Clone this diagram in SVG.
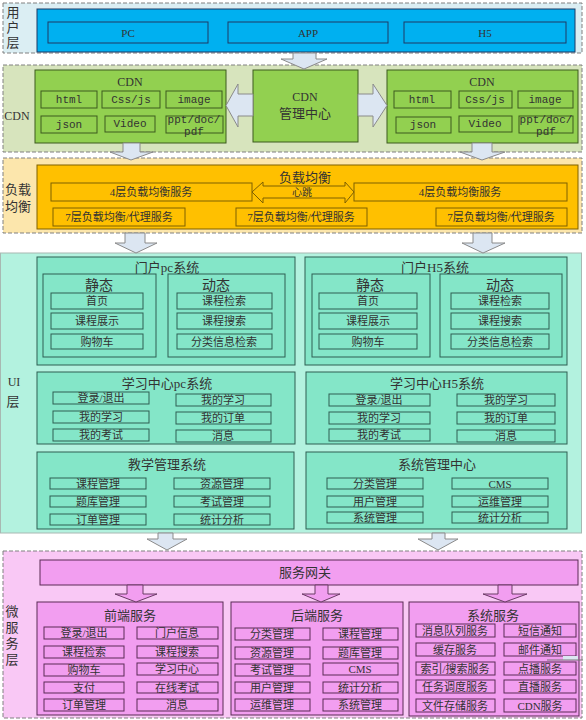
<svg xmlns="http://www.w3.org/2000/svg" width="586" height="720" viewBox="0 0 586 720">
<style>
text{font-family:"Liberation Serif","Noto Sans CJK SC",serif;fill:#333;text-anchor:middle;dominant-baseline:central}
.mono{font-family:"Liberation Mono","Noto Sans CJK SC",monospace;font-size:11px}
.t11{font-size:11px}.t10{font-size:10px}.t12{font-size:12px}.t13{font-size:13px}.t14{font-size:14px}
.layer{stroke:#808080;stroke-width:1;stroke-dasharray:4 2}
.blue{fill:#00b0f0;stroke:#1f3864;stroke-width:1}
.green{fill:#92d050;stroke:#3d5a1e;stroke-width:1}
.orange{fill:#ffc000;stroke:#7f6000;stroke-width:1}
.aqua{fill:#84e6c8;stroke:#2e5e52;stroke-width:1}
.pink{fill:#f29ef0;stroke:#5a2a55;stroke-width:1}
.arr{fill:#dce6f2;stroke:#8a8a8a;stroke-width:1}
.parr{fill:#f29ef0;stroke:#6a3a65;stroke-width:1}
</style>

<!-- layers -->
<g id="layer-user">
<rect class="layer" x="3" y="3" width="579" height="50" fill="#dbeef3"/>
<text class="t13" x="13" y="12">用</text><text class="t13" x="13" y="27">户</text><text class="t13" x="13" y="42">层</text>
</g>
<g id="layer-cdn">
<rect class="layer" x="3" y="65" width="579" height="87" fill="#d7e4bd"/>
<text class="t12" x="17" y="116">CDN</text>
</g>
<g id="layer-lb">
<rect class="layer" x="3" y="158" width="579" height="75" fill="#fce6ac"/>
<text class="t13" x="18" y="189">负载</text><text class="t13" x="18" y="206">均衡</text>
</g>
<g id="layer-ui">
<rect x="0.5" y="253" width="581" height="280" fill="#b3f2df" stroke="#a8b8b2"/>
<text class="t12" x="14" y="382">UI</text><text class="t13" x="13" y="401">层</text>
</g>
<g id="layer-ms">
<rect class="layer" x="3" y="551" width="579" height="167" fill="#f9c8f5"/>
<text class="t13" x="12" y="611">微</text><text class="t13" x="12" y="627">服</text><text class="t13" x="12" y="643">务</text><text class="t13" x="12" y="659">层</text>
</g>

<!-- user layer -->
<g id="user-clients">
<rect class="blue" x="37" y="9" width="538" height="43"/>
<rect class="blue" x="48" y="22" width="160" height="21"/><text class="t11" x="128" y="33">PC</text>
<rect class="blue" x="228" y="22" width="160" height="21"/><text class="t11" x="308" y="33">APP</text>
<rect class="blue" x="404" y="22" width="162" height="21"/><text class="t11" x="485" y="33">H5</text>
</g>

<!-- CDN -->
<g id="cdn-left">
<rect class="green" x="35" y="70" width="191" height="73"/>
<text class="t12" x="130" y="82">CDN</text>
<rect class="green" x="41" y="91" width="56" height="17"/><text class="mono" x="69" y="99.5">html</text>
<rect class="green" x="102" y="91" width="58" height="17"/><text class="mono" x="131" y="99.5">Css/js</text>
<rect class="green" x="166" y="91" width="56" height="17"/><text class="mono" x="194" y="99.5">image</text>
<rect class="green" x="41" y="116" width="56" height="17"/><text class="mono" x="69" y="124.5">json</text>
<rect class="green" x="105" y="116" width="50" height="16"/><text class="mono" x="130" y="123.5">Video</text>
<rect class="green" x="166" y="116" width="57" height="17"/><text class="mono" x="194" y="120">ppt/doc/</text><text class="mono" x="194" y="132">pdf</text>
</g>
<g id="cdn-center">
<rect class="green" x="253" y="70" width="105" height="72"/>
<text class="t12" x="305" y="97">CDN</text><text class="t13" x="305" y="113">管理中心</text>
</g>
<g id="cdn-right">
<rect class="green" x="387" y="70" width="191" height="73"/>
<text class="t12" x="482" y="82">CDN</text>
<rect class="green" x="394" y="91" width="57" height="17"/><text class="mono" x="422" y="99.5">html</text>
<rect class="green" x="459" y="91" width="53" height="17"/><text class="mono" x="485" y="99.5">Css/js</text>
<rect class="green" x="518" y="91" width="55" height="17"/><text class="mono" x="545" y="99.5">image</text>
<rect class="green" x="396" y="117" width="55" height="16"/><text class="mono" x="423" y="125">json</text>
<rect class="green" x="459" y="116" width="53" height="16"/><text class="mono" x="485" y="123.5">Video</text>
<rect class="green" x="519" y="116" width="54" height="17"/><text class="mono" x="546" y="120">ppt/doc/</text><text class="mono" x="546" y="132">pdf</text>
</g>

<!-- load balancing -->
<g id="lb">
<rect class="orange" x="37" y="165" width="541" height="64"/>
<text class="t13" x="305" y="177">负载均衡</text>
<rect class="orange" x="51" y="183" width="201" height="18"/><text class="t11" x="151" y="192">4层负载均衡服务</text>
<rect class="orange" x="354" y="183" width="213" height="18"/><text class="t11" x="460" y="192">4层负载均衡服务</text>
<rect class="orange" x="53" y="208" width="132" height="18"/><text class="t11" x="119" y="217">7层负载均衡/代理服务</text>
<rect class="orange" x="236" y="208" width="131" height="18"/><text class="t11" x="301" y="217">7层负载均衡/代理服务</text>
<rect class="orange" x="436" y="208" width="131" height="18"/><text class="t11" x="501" y="217">7层负载均衡/代理服务</text>
</g>

<!-- UI -->
<g id="portal-pc">
<rect class="aqua" x="37" y="257" width="258" height="108"/>
<text class="t13" x="167" y="267">门户pc系统</text>
<rect class="aqua" x="43" y="274" width="113" height="83"/><text class="t14" x="99" y="285">静态</text>
<rect class="aqua" x="51" y="293" width="92" height="16"/><text class="t11" x="97" y="301">首页</text>
<rect class="aqua" x="51" y="313" width="92" height="16"/><text class="t11" x="97" y="321">课程展示</text>
<rect class="aqua" x="51" y="334" width="92" height="15"/><text class="t11" x="97" y="341.5">购物车</text>
<rect class="aqua" x="168" y="274" width="117" height="83"/><text class="t14" x="216" y="285">动态</text>
<rect class="aqua" x="177" y="293" width="95" height="16"/><text class="t11" x="224" y="301">课程检索</text>
<rect class="aqua" x="177" y="313" width="95" height="16"/><text class="t11" x="224" y="321">课程搜索</text>
<rect class="aqua" x="177" y="334" width="95" height="15"/><text class="t11" x="224" y="341.5">分类信息检索</text>
</g>
<g id="portal-h5">
<rect class="aqua" x="305" y="257" width="262" height="108"/>
<text class="t13" x="435" y="267">门户H5系统</text>
<rect class="aqua" x="312" y="274" width="118" height="83"/><text class="t14" x="370" y="285">静态</text>
<rect class="aqua" x="319" y="293" width="98" height="16"/><text class="t11" x="368" y="301">首页</text>
<rect class="aqua" x="319" y="313" width="98" height="16"/><text class="t11" x="368" y="321">课程展示</text>
<rect class="aqua" x="319" y="334" width="98" height="15"/><text class="t11" x="368" y="341.5">购物车</text>
<rect class="aqua" x="440" y="274" width="122" height="83"/><text class="t14" x="500" y="285">动态</text>
<rect class="aqua" x="451" y="293" width="98" height="16"/><text class="t11" x="500" y="301">课程检索</text>
<rect class="aqua" x="451" y="313" width="98" height="16"/><text class="t11" x="500" y="321">课程搜索</text>
<rect class="aqua" x="451" y="334" width="98" height="15"/><text class="t11" x="500" y="341.5">分类信息检索</text>
</g>
<g id="study-pc">
<rect class="aqua" x="37" y="372" width="258" height="72"/>
<text class="t13" x="167" y="383">学习中心pc系统</text>
<rect class="aqua" x="53" y="392" width="96" height="12"/><text class="t11" x="101" y="398">登录/退出</text>
<rect class="aqua" x="53" y="411" width="96" height="12"/><text class="t11" x="101" y="417">我的学习</text>
<rect class="aqua" x="53" y="429" width="96" height="12"/><text class="t11" x="101" y="435">我的考试</text>
<rect class="aqua" x="176" y="394" width="95" height="12"/><text class="t11" x="223" y="400">我的学习</text>
<rect class="aqua" x="176" y="412" width="95" height="12"/><text class="t11" x="223" y="418">我的订单</text>
<rect class="aqua" x="176" y="430" width="95" height="12"/><text class="t11" x="223" y="436">消息</text>
</g>
<g id="study-h5">
<rect class="aqua" x="306" y="372" width="261" height="72"/>
<text class="t13" x="437" y="383">学习中心H5系统</text>
<rect class="aqua" x="329" y="394" width="101" height="12"/><text class="t11" x="379" y="400">登录/退出</text>
<rect class="aqua" x="329" y="412" width="101" height="12"/><text class="t11" x="379" y="418">我的学习</text>
<rect class="aqua" x="329" y="429" width="101" height="12"/><text class="t11" x="379" y="435">我的考试</text>
<rect class="aqua" x="457" y="394" width="98" height="12"/><text class="t11" x="506" y="400">我的学习</text>
<rect class="aqua" x="457" y="412" width="98" height="12"/><text class="t11" x="506" y="418">我的订单</text>
<rect class="aqua" x="457" y="430" width="98" height="12"/><text class="t11" x="506" y="436">消息</text>
</g>
<g id="teach-mgmt">
<rect class="aqua" x="37" y="452" width="257" height="77"/>
<text class="t13" x="167" y="464">教学管理系统</text>
<rect class="aqua" x="50" y="478" width="96" height="11"/><text class="t11" x="98" y="483.5">课程管理</text>
<rect class="aqua" x="50" y="496" width="96" height="11"/><text class="t11" x="98" y="501.5">题库管理</text>
<rect class="aqua" x="50" y="514" width="96" height="11"/><text class="t11" x="98" y="519.5">订单管理</text>
<rect class="aqua" x="174" y="478" width="96" height="11"/><text class="t11" x="222" y="483.5">资源管理</text>
<rect class="aqua" x="174" y="496" width="96" height="11"/><text class="t11" x="222" y="501.5">考试管理</text>
<rect class="aqua" x="174" y="514" width="96" height="11"/><text class="t11" x="222" y="519.5">统计分析</text>
</g>
<g id="sys-mgmt">
<rect class="aqua" x="306" y="452" width="261" height="77"/>
<text class="t13" x="437" y="464">系统管理中心</text>
<rect class="aqua" x="327" y="478" width="96" height="11"/><text class="t11" x="375" y="483.5">分类管理</text>
<rect class="aqua" x="327" y="496" width="96" height="11"/><text class="t11" x="375" y="501.5">用户管理</text>
<rect class="aqua" x="327" y="512" width="96" height="11"/><text class="t11" x="375" y="517.5">系统管理</text>
<rect class="aqua" x="452" y="478" width="96" height="11"/><text class="t11" x="500" y="483.5">CMS</text>
<rect class="aqua" x="452" y="496" width="96" height="11"/><text class="t11" x="500" y="501.5">运维管理</text>
<rect class="aqua" x="452" y="512" width="96" height="11"/><text class="t11" x="500" y="517.5">统计分析</text>
</g>

<!-- microservices -->
<g id="gateway">
<rect class="pink" x="40" y="560" width="538" height="25"/>
<text class="t13" x="305" y="572">服务网关</text>
</g>
<g id="front-svc">
<rect class="pink" x="37" y="602" width="186" height="113"/>
<text class="t13" x="130" y="615">前端服务</text>
<rect class="pink" x="44" y="627" width="80" height="12"/><text class="t11" x="84" y="633">登录/退出</text>
<rect class="pink" x="44" y="646" width="80" height="12"/><text class="t11" x="84" y="652">课程检索</text>
<rect class="pink" x="44" y="664" width="80" height="12"/><text class="t11" x="84" y="670">购物车</text>
<rect class="pink" x="44" y="682" width="80" height="11"/><text class="t11" x="84" y="687.5">支付</text>
<rect class="pink" x="44" y="699" width="80" height="12"/><text class="t11" x="84" y="705">订单管理</text>
<rect class="pink" x="137" y="627" width="81" height="12"/><text class="t11" x="177" y="633">门户信息</text>
<rect class="pink" x="137" y="646" width="81" height="12"/><text class="t11" x="177" y="652">课程搜索</text>
<rect class="pink" x="137" y="663" width="81" height="12"/><text class="t11" x="177" y="669">学习中心</text>
<rect class="pink" x="137" y="682" width="81" height="11"/><text class="t11" x="177" y="687.5">在线考试</text>
<rect class="pink" x="137" y="699" width="81" height="12"/><text class="t11" x="177" y="705">消息</text>
</g>
<g id="back-svc">
<rect class="pink" x="231" y="602" width="172" height="113"/>
<text class="t13" x="317" y="615">后端服务</text>
<rect class="pink" x="235" y="628" width="75" height="12"/><text class="t11" x="272" y="634">分类管理</text>
<rect class="pink" x="235" y="647" width="75" height="12"/><text class="t11" x="272" y="653">资源管理</text>
<rect class="pink" x="235" y="664" width="75" height="12"/><text class="t11" x="272" y="670">考试管理</text>
<rect class="pink" x="235" y="682" width="75" height="11"/><text class="t11" x="272" y="687.5">用户管理</text>
<rect class="pink" x="235" y="699" width="75" height="12"/><text class="t11" x="272" y="705">运维管理</text>
<rect class="pink" x="323" y="628" width="75" height="12"/><text class="t11" x="360" y="634">课程管理</text>
<rect class="pink" x="323" y="647" width="75" height="12"/><text class="t11" x="360" y="653">题库管理</text>
<rect class="pink" x="323" y="663" width="75" height="12"/><text class="t11" x="360" y="669">CMS</text>
<rect class="pink" x="323" y="682" width="75" height="11"/><text class="t11" x="360" y="687.5">统计分析</text>
<rect class="pink" x="323" y="699" width="75" height="12"/><text class="t11" x="360" y="705">系统管理</text>
</g>
<g id="sys-svc">
<rect class="pink" x="409" y="602" width="170" height="114"/>
<text class="t13" x="493" y="615">系统服务</text>
<rect class="pink" x="416" y="624" width="79" height="13"/><text class="t11" x="455" y="630.5">消息队列服务</text>
<rect class="pink" x="416" y="643" width="79" height="13"/><text class="t11" x="455" y="649.5">缓存服务</text>
<rect class="pink" x="416" y="662" width="79" height="13"/><text class="t11" x="455" y="668.5">索引/搜索服务</text>
<rect class="pink" x="416" y="680" width="79" height="13"/><text class="t11" x="455" y="686.5">任务调度服务</text>
<rect class="pink" x="416" y="699" width="79" height="13"/><text class="t11" x="455" y="705.5">文件存储服务</text>
<rect class="pink" x="504" y="624" width="72" height="13"/><text class="t11" x="540" y="630.5">短信通知</text>
<rect class="pink" x="504" y="643" width="72" height="13"/><text class="t11" x="540" y="649.5">邮件通知</text>
<rect class="pink" x="504" y="662" width="72" height="13"/><text class="t11" x="540" y="668.5">点播服务</text>
<rect class="pink" x="504" y="680" width="72" height="13"/><text class="t11" x="540" y="686.5">直播服务</text>
<rect class="pink" x="504" y="699" width="72" height="13"/><text class="t11" x="540" y="705.5">CDN服务</text>
<rect x="563" y="656" width="15" height="4" fill="#dce6f2" stroke="none"/>
<line x1="547" y1="660" x2="583" y2="660" stroke="#777" stroke-width="1"/>
</g>

<!-- connectors -->
<g id="connectors">
<polygon class="arr" points="293,53 316,53 316,59 327,59 304,69 281,59 293,59"/>
<polygon class="arr" points="238,84 238,94 253,94 253,116 238,116 238,127 226,105.5"/>
<polygon class="arr" points="373,84 373,94 358,94 358,116 373,116 373,127 387,105.5"/>
<polygon class="arr" points="123,143 140,143 140,152 153,152 131,160 110,152 123,152"/>
<polygon class="arr" points="472,143 492,143 492,152 505,152 482,160 460,152 472,152"/>
<polygon class="orange" points="252,192 263,182 263,186 345,186 345,182 354,192 345,203 345,198 263,198 263,203"/>
<text class="t10" x="302" y="192">心跳</text>
<polygon class="arr" points="125,233 145,233 145,243 157,243 136,253 115,243 125,243"/>
<polygon class="arr" points="473,233 492,233 492,243 505,243 483,253 462,243 473,243"/>
<polygon class="arr" points="158,533 173,533 173,539 187,539 167,550 147,539 158,539"/>
<polygon class="arr" points="432,533 445,533 445,539 458,539 438,550 418,539 432,539"/>
<polygon class="parr" points="127,585 143,585 143,594 157,594 136,602 115,594 127,594"/>
<polygon class="parr" points="315,585 328,585 328,594 340,594 321,602 302,594 315,594"/>
<polygon class="parr" points="498,585 512,585 512,594 527,594 505,602 483,594 498,594"/>
</g>
</svg>
